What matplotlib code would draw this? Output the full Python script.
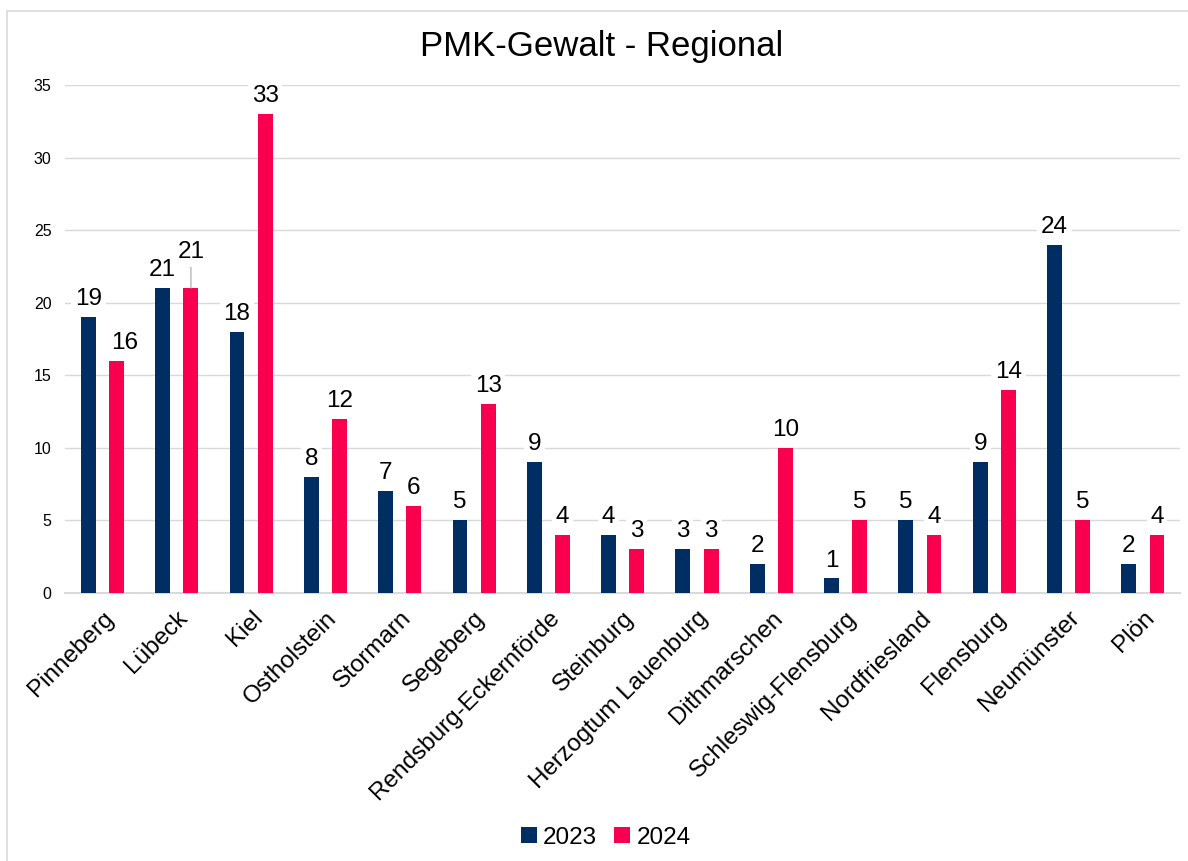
import matplotlib.pyplot as plt
import numpy as np
from matplotlib.patches import Rectangle

plt.rcParams['font.family'] = ['Liberation Sans', 'DejaVu Sans']

regions = ['Pinneberg', 'Lübeck', 'Kiel', 'Ostholstein', 'Stormarn', 'Segeberg',
           'Rendsburg-Eckernförde', 'Steinburg', 'Herzogtum Lauenburg', 'Dithmarschen',
           'Schleswig-Flensburg', 'Nordfriesland', 'Flensburg', 'Neumünster', 'Plön']
values_2023 = [19, 21, 18, 8, 7, 5, 9, 4, 3, 2, 1, 5, 9, 24, 2]
values_2024 = [16, 21, 33, 12, 6, 13, 4, 3, 3, 10, 5, 4, 14, 5, 4]

col23 = '#002D62'
col24 = '#F8004F'
grid_col = '#D9D9D9'

fig = plt.figure(figsize=(11.88, 8.61), dpi=100)
ax = fig.add_axes([0.055, 0.3113, 0.9383, 0.59])

x = np.arange(len(regions))
off = 0.19
w = 0.2
b1 = ax.bar(x - off, values_2023, w, color=col23, label='2023', zorder=3)
b2 = ax.bar(x + off, values_2024, w, color=col24, label='2024', zorder=3)

box = dict(boxstyle='square,pad=0.15', fc='white', ec='none')
for i in range(len(regions)):
    ax.annotate(str(values_2023[i]), (x[i] - off, values_2023[i]), xytext=(0, 5),
                textcoords='offset points', ha='center', va='bottom', fontsize=17.5,
                bbox=box, zorder=4)
    if regions[i] == 'Lübeck':
        # this label was pushed up, with a leader line
        ax.annotate(str(values_2024[i]), (x[i] + off, values_2024[i]), xytext=(0, 18),
                    textcoords='offset points', ha='center', va='bottom', fontsize=17.5,
                    bbox=box, zorder=4,
                    arrowprops=dict(arrowstyle='-', color='#A6A6A6', lw=0.8,
                                    shrinkA=0, shrinkB=0))
    else:
        dx = 6 if regions[i] == 'Pinneberg' else 0
        ax.annotate(str(values_2024[i]), (x[i] + off, values_2024[i]), xytext=(dx, 5),
                    textcoords='offset points', ha='center', va='bottom', fontsize=17.5,
                    bbox=box, zorder=4)

ax.set_xlim(-0.5, len(regions) - 0.5)
ax.set_ylim(0, 35)
ax.set_yticks(np.arange(0, 36, 5))
ax.yaxis.grid(True, color=grid_col, lw=1.0, zorder=0)
ax.set_axisbelow(True)
for s in ['top', 'right', 'left']:
    ax.spines[s].set_visible(False)
ax.spines['bottom'].set_color(grid_col)
ax.spines['bottom'].set_linewidth(1.5)
ax.tick_params(axis='y', length=0, pad=10, labelsize=11.5)
ax.tick_params(axis='x', length=0, pad=10)
ax.set_xticks(x)
ax.set_xticklabels(regions, rotation=45, ha='right', rotation_mode='anchor', fontsize=17.5)

fig.text(0.506, 0.946, 'PMK-Gewalt - Regional', ha='center', va='center', fontsize=25)

fig.legend(handles=[b1, b2], loc='center', bbox_to_anchor=(0.51, 0.027), ncol=2,
           frameon=False, fontsize=17.5, handlelength=0.65, handleheight=0.65,
           handletextpad=0.25, columnspacing=0.7)

fig.patches.append(Rectangle((7 / 1188, -0.1), 1.2, 1 - 11 / 861 + 0.1,
                             transform=fig.transFigure, fill=False,
                             ec=grid_col, lw=1.2))

fig.savefig('out.png', dpi=100)
